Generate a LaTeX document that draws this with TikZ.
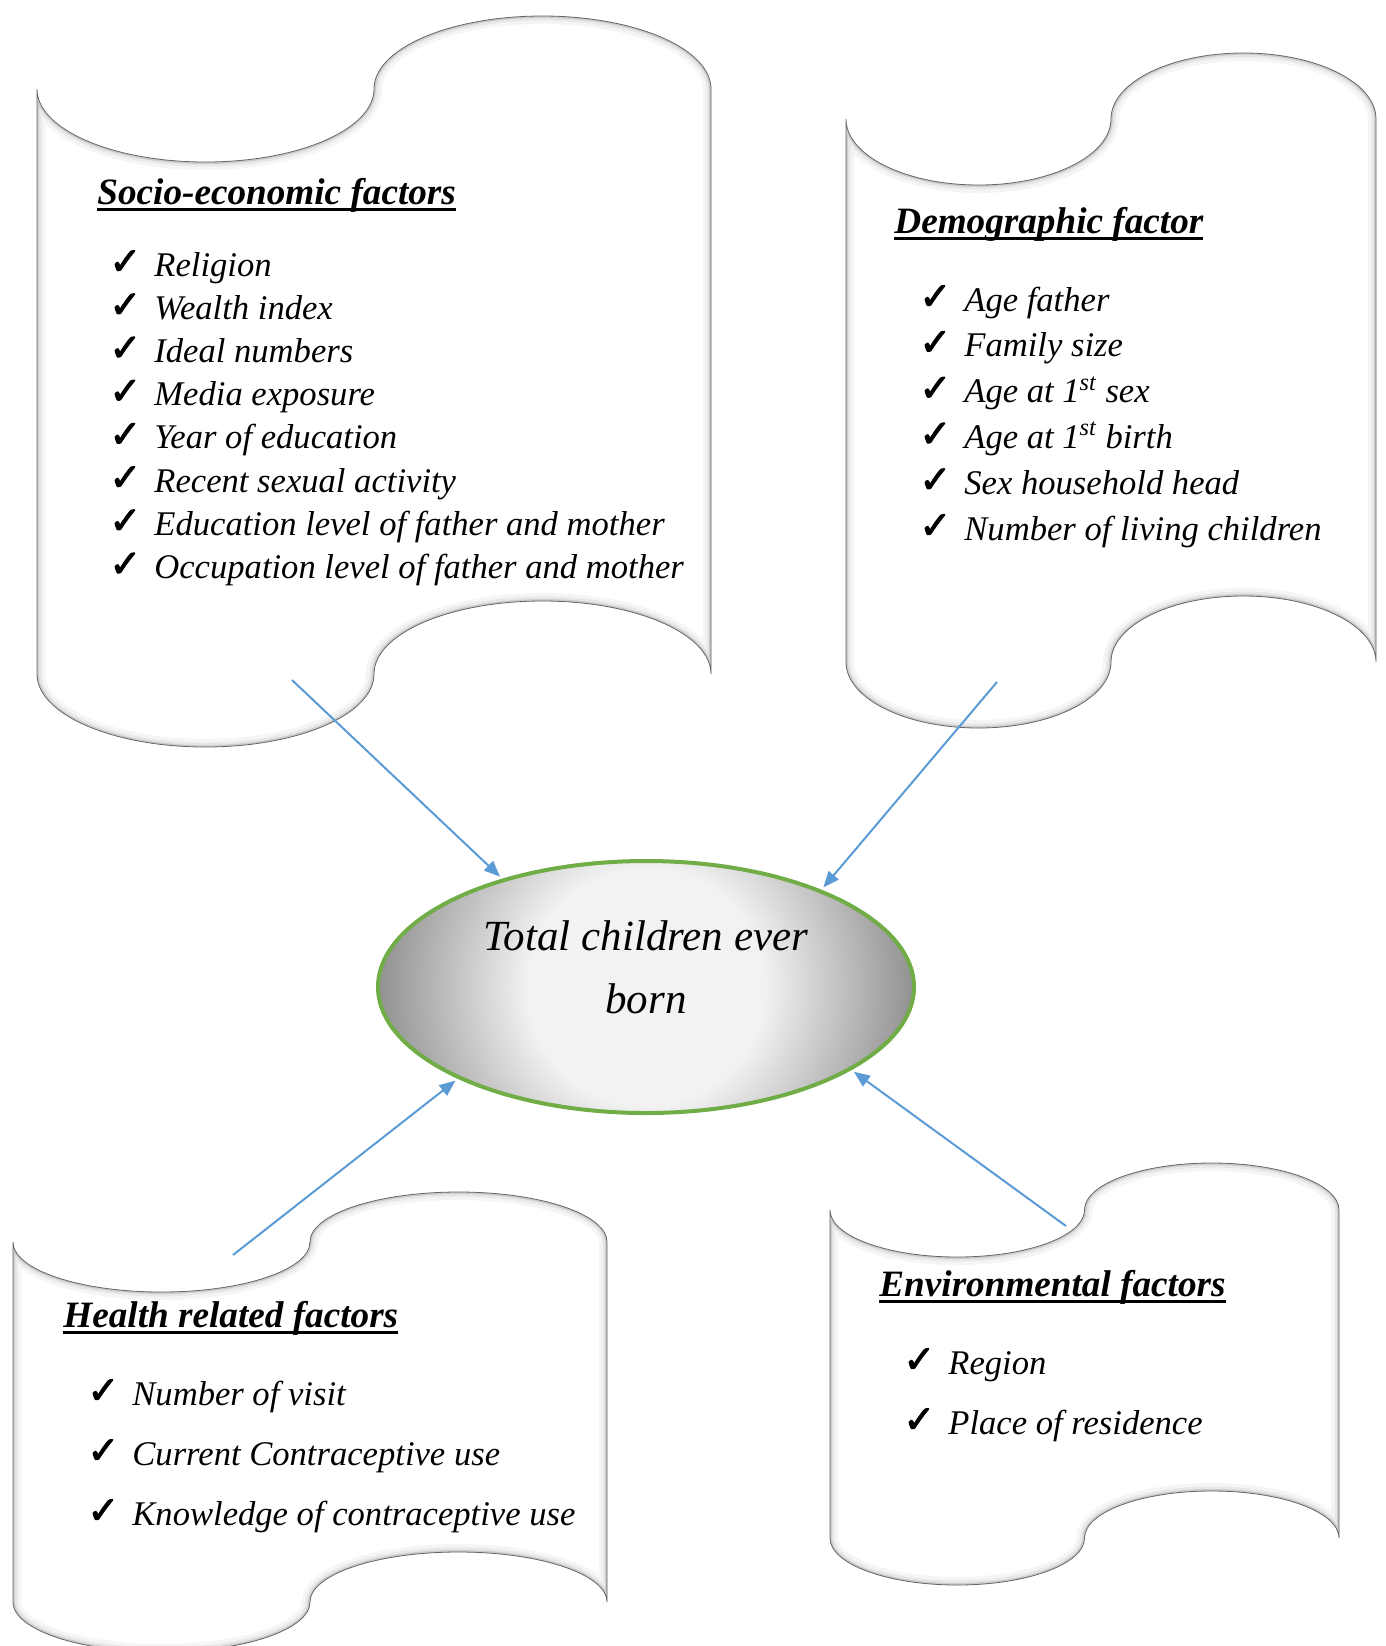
\documentclass[tikz,border=0pt]{standalone}
\usepackage{fontspec}
\setmainfont{Liberation Serif}
\newfontfamily\chkfont[FakeBold=2.5]{DejaVu Sans}
\usetikzlibrary{shapes.geometric,arrows.meta}

\definecolor{arrowblue}{RGB}{91,155,213}
\definecolor{ringgreen}{RGB}{112,173,71}
\definecolor{tcebin}{gray}{0.95}
\definecolor{tcebout}{gray}{0.57}
\pgfdeclareradialshading{tcebshade}{\pgfpoint{0bp}{0bp}}{color(0bp)=(tcebin); color(11bp)=(tcebin); color(25bp)=(tcebout); color(50bp)=(tcebout)}

\newcommand{\chk}{\makebox[22.5pt][l]{\raisebox{0.8pt}{\chkfont\fontsize{19}{19}\selectfont ✓}}}
\newsavebox{\hulbox}
\newcommand{\hul}[1]{\sbox{\hulbox}{#1}\rlap{\rule[-3.4pt]{\wd\hulbox}{1.2pt}}\usebox{\hulbox}}

\tikzset{
  wave/.style n args={5}{insert path={(#1,#3)
    arc[start angle=180,end angle=360,x radius={(#2-#1)*0.125pt},y radius={#5*0.5pt}]
    arc[start angle=180,end angle=0,x radius={(#2-#1)*0.125pt},y radius={#5*0.5pt}]
    -- (#2,#4)
    arc[start angle=0,end angle=180,x radius={(#2-#1)*0.125pt},y radius={#5*0.5pt}]
    arc[start angle=0,end angle=-180,x radius={(#2-#1)*0.125pt},y radius={#5*0.5pt}]
    -- cycle}},
  head/.style={anchor=base west, inner sep=0pt, font=\fontsize{18.6}{22}\selectfont\bfseries\itshape},
  item/.style={anchor=base west, inner sep=0pt, font=\fontsize{17.3}{21}\selectfont\itshape},
  link/.style={arrowblue, line width=1pt, shorten >=1.5pt, -{Triangle[length=8pt,width=6.5pt]}},
}

\begin{document}
\begin{tikzpicture}[x=0.5pt,y=-0.5pt]
\useasboundingbox (0,0) rectangle (1386,1646);

% scroll shapes
\foreach \l/\r/\t/\b/\h in {37/711/89/674/73, 846/1376/119/662/66, 13/607/1242/1602/50, 830/1339/1210/1538/47}{
  \fill[white] [wave={\l}{\r}{\t}{\b}{\h}];
  \begin{scope}
    \clip [wave={\l}{\r}{\t}{\b}{\h}];
    \draw[black!4, line width=8pt] [wave={\l}{\r}{\t}{\b}{\h}];
    \draw[black!9, line width=4.5pt] [wave={\l}{\r}{\t}{\b}{\h}];
    \draw[black!20, line width=2pt] [wave={\l}{\r}{\t}{\b}{\h}];
  \end{scope}
  \draw[black!60, line width=0.4pt] [wave={\l}{\r}{\t}{\b}{\h}];
}

% socio-economic
\node[head] (sehead) at (97,204) {\hul{Socio-economic factors}};
\foreach \txt [count=\i] in {Religion, Wealth index, Ideal numbers, Media exposure, Year of education, Recent sexual activity, Education level of father and mother, Occupation level of father and mother}
  \node[item] (se\i) at (109,{276+43.2*(\i-1)}) {\chk\txt};

% demographic
\node[head] (dmhead) at (894,233) {\hul{Demographic factor}};
\foreach \txt [count=\i] in {Age father, Family size, Age at 1\textsuperscript{st} sex, Age at 1\textsuperscript{st} birth, Sex household head, Number of living children}
  \node[item] (dm\i) at (919,{311+45.8*(\i-1)}) {\chk\txt};

% health
\node[head] (hrhead) at (63,1327) {\hul{Health related factors}};
\foreach \txt [count=\i] in {Number of visit, Current Contraceptive use, Knowledge of contraceptive use}
  \node[item] (hr\i) at (87,{1405+60*(\i-1)}) {\chk\txt};

% environmental
\node[head] (enhead) at (879,1296) {\hul{Environmental factors}};
\foreach \txt [count=\i] in {Region, Place of residence}
  \node[item] (en\i) at (903,{1374+60*(\i-1)}) {\chk\txt};

% centre
\node[ellipse, draw=ringgreen, line width=2pt, minimum width=268pt, minimum height=126pt, inner sep=0pt,
  path picture={\shade[shading=tcebshade] (path picture bounding box.center) circle (134pt);}] (tceb) at (646,987) {};
\node[font=\fontsize{21.5}{31.5}\selectfont\itshape, align=center, inner sep=0pt] (tcebtext) at ([yshift=10pt]tceb.center) {Total children ever\\born};

% arrows
\coordinate (seout) at (292,680);
\coordinate (dmout) at (997,682);
\coordinate (hrout) at (233,1255);
\coordinate (enout) at (1066,1226);
\draw[link] (seout) -- (tceb.143);
\draw[link] (dmout) -- (tceb.29);
\draw[link] (hrout) -- (tceb.206);
\draw[link] (enout) -- (tceb.338);
\end{tikzpicture}
\end{document}
